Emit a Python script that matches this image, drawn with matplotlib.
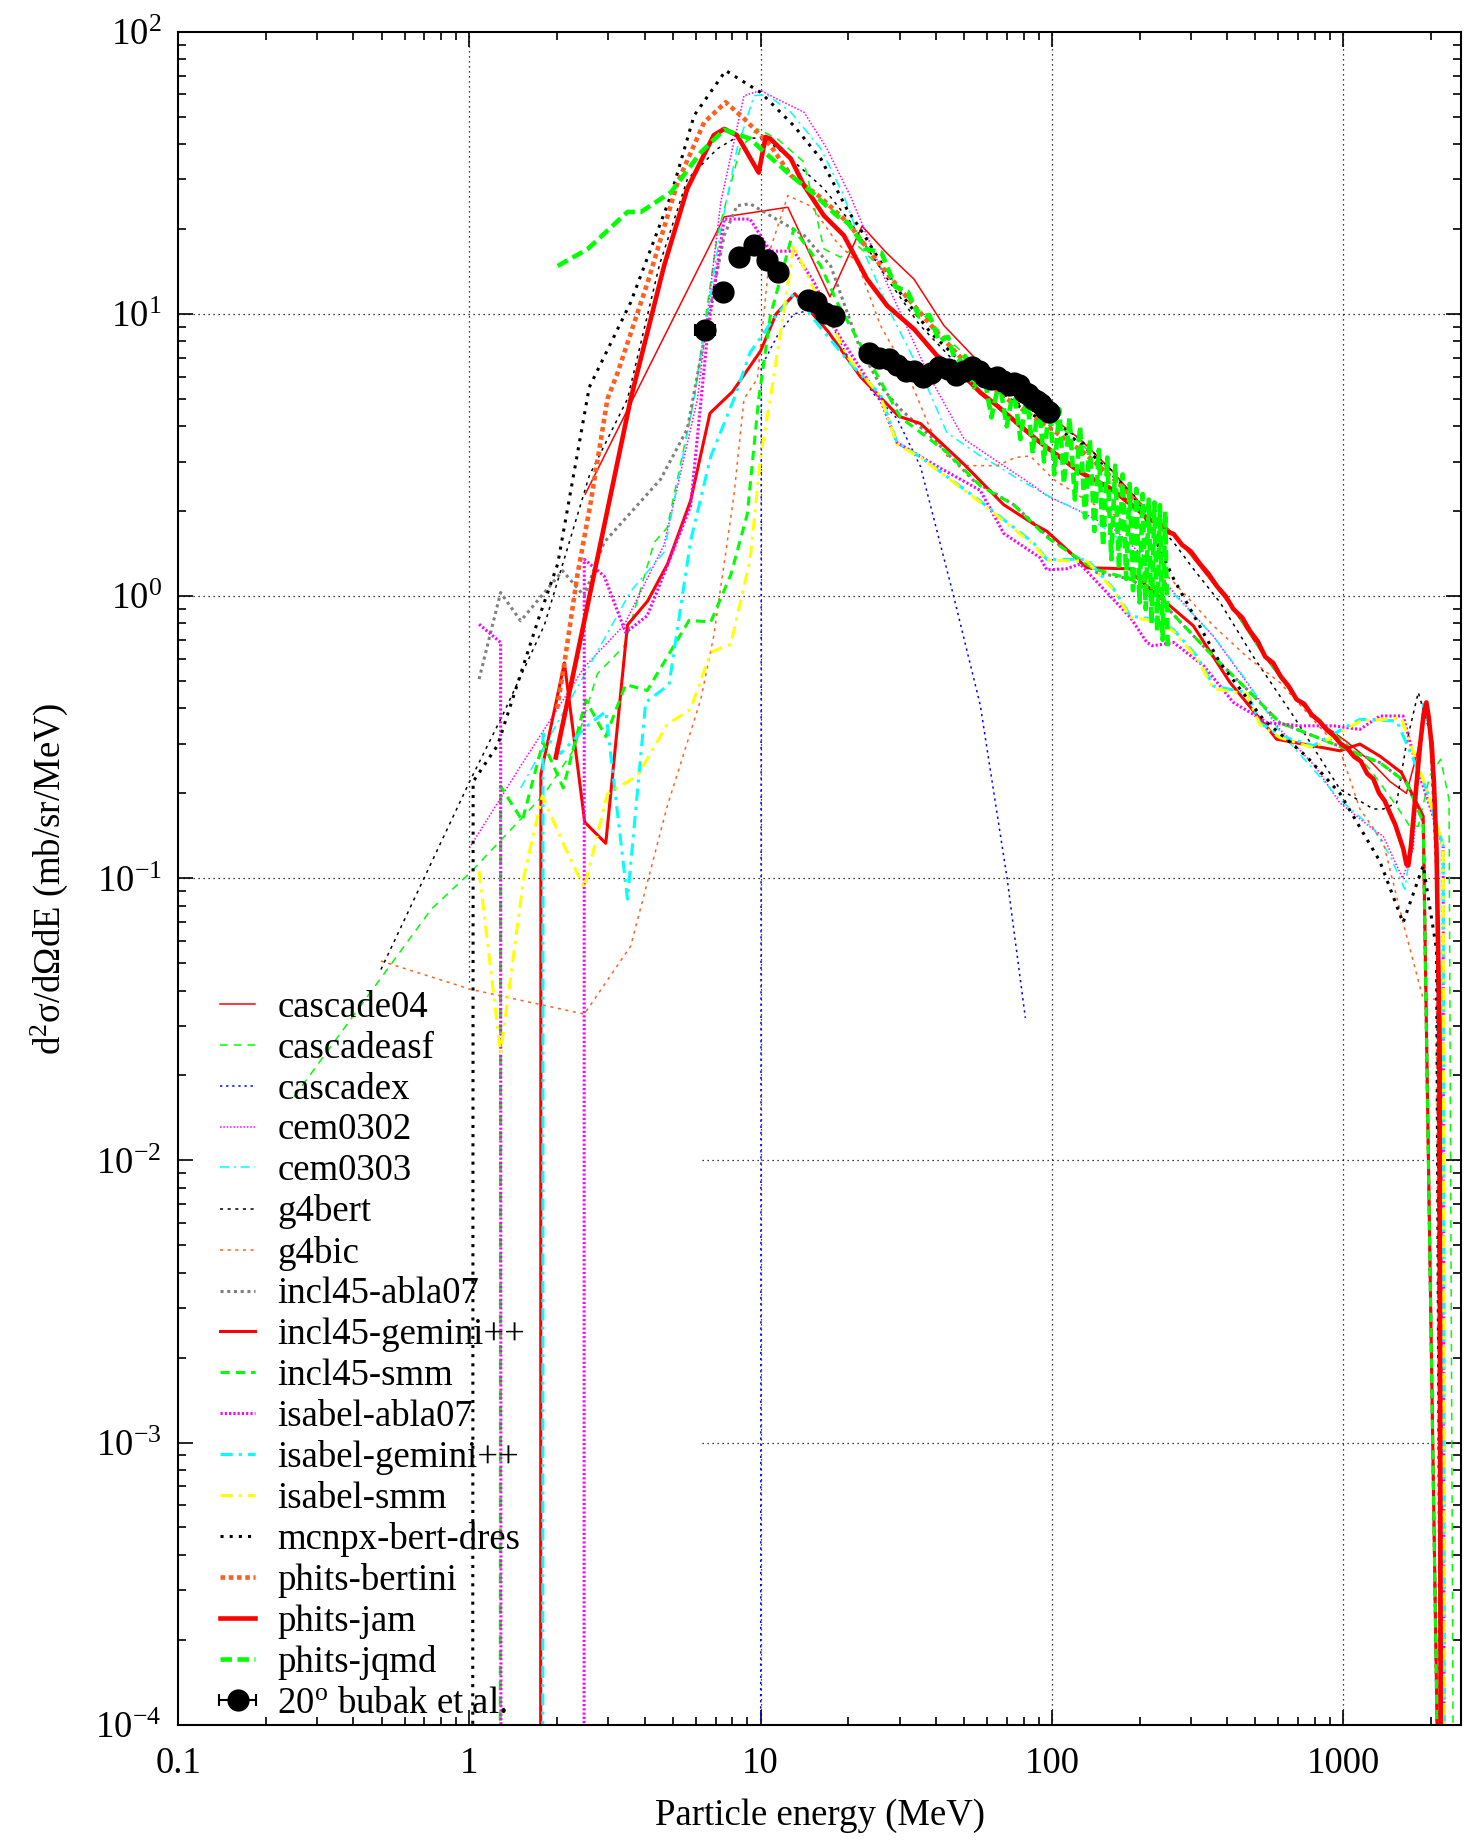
import math
import matplotlib
matplotlib.use('Agg')
import matplotlib.pyplot as plt
from matplotlib.ticker import FixedLocator, FuncFormatter, NullFormatter

plt.rcParams['font.family'] = ['Liberation Serif', 'DejaVu Serif']
plt.rcParams['mathtext.fontset'] = 'custom'
plt.rcParams['mathtext.rm'] = 'Liberation Serif'
plt.rcParams['mathtext.it'] = 'Liberation Serif:italic'
plt.rcParams['mathtext.bf'] = 'Liberation Serif:bold'

# ---- model curves (energy in MeV, d2sigma/dOmega dE in mb/sr/MeV) ----
e_cascade04 = [2.5, 7.5, 12.4, 17.3, 22.3, 27, 33.6, 42.6, 55, 70, 85, 100, 125, 160, 200, 262, 323, 420,
               532, 693, 855, 1028, 1240, 1450, 1650, 1800, 1930, 2040, 2100, 2180, 2200]
y_cascade04 = [2.3, 22.1, 23.9, 11.5, 20.5, 16.5, 13.3, 9.1, 6.9, 5.6, 4.9, 4.3, 3.6, 2.8, 2.15, 1.66, 1.27, 0.9,
               0.62, 0.43, 0.35, 0.305, 0.26, 0.22, 0.2, 0.28, 0.4, 0.3, 0.13, 0.02, 1e-6]

e_cascadeasf = [0.25, 0.74, 1.01, 1.81, 2.29, 2.75, 3.4, 4.31, 4.78, 5.91, 7.1, 8.5, 9.75, 11.4, 14.1, 16.5, 18.8,
                21.5, 27, 33, 42, 55, 70, 85, 100, 125, 160, 200, 262, 323, 420, 532, 693, 855, 1028, 1250,
                1528, 1693, 1812, 1986, 2163, 2311, 2432]
y_cascadeasf = [0.0168, 0.0777, 0.105, 0.199, 0.287, 0.53, 0.665, 1.55, 1.75, 5.0, 19, 38.5, 45.3, 41.8, 34.5, 17,
                15.9, 17.5, 14, 11, 8.5, 6.6, 5.3, 4.7, 4.2, 3.5, 2.75, 2.1, 1.66, 1.28, 0.9, 0.62, 0.43, 0.35,
                0.3, 0.24, 0.18, 0.153, 0.153, 0.231, 0.264, 0.19, 1e-6]

e_cascadex = [9.99, 10.05, 11.5, 13.0, 14.7, 17.5, 20, 24.5, 29.4, 35.4, 46, 56.8, 70.2, 81.1]
y_cascadex = [1e-6, 6.5, 8.5, 10.0, 10.3, 9.2, 7.0, 5.2, 4.26, 2.88, 1.0, 0.41, 0.1, 0.032]

e_cem0302 = [1.0, 1.5, 2.48, 3.4, 4.66, 6.07, 7.3, 8.77, 10, 11.4, 14.1, 16.9, 20.4, 27, 38, 50, 65, 86.7, 96,
             125, 163, 212, 262, 359, 467, 607, 800, 975, 1270, 1374, 1600, 1741, 1884, 2036, 2093, 2230]
y_cem0302 = [0.128, 0.25, 0.56, 0.79, 1.52, 5.0, 25, 59.4, 62, 57.8, 51.9, 38.5, 26, 13, 6.0, 3.6, 3.0, 2.46, 2.27,
             2.0, 1.73, 1.35, 1.03, 0.72, 0.494, 0.337, 0.25, 0.185, 0.149, 0.141, 0.1, 0.127, 0.42, 0.29, 0.127, 1e-6]

e_cem0303 = [1.5, 2.48, 3.58, 4.66, 5.91, 7.3, 8.3, 9.5, 10.5, 12.7, 16.1, 19.3, 23, 27.9, 36.3, 43.6, 56.8, 64.9,
             74, 96, 125, 163, 212, 262, 359, 467, 607, 800, 975, 1270, 1450, 1629, 1750, 1884, 2036, 2093, 2230]
y_cem0303 = [0.209, 0.525, 1.04, 1.43, 5.0, 20, 38.5, 59.4, 60, 51.9, 38.5, 26.3, 16, 10.1, 5.9, 3.8, 3.14, 2.9,
             2.66, 2.28, 2.0, 1.65, 1.3, 1.02, 0.72, 0.5, 0.33, 0.24, 0.19, 0.15, 0.12, 0.0914, 0.15, 0.42, 0.29,
             0.13, 1e-6]

e_g4bert = [0.497, 0.568, 1.01, 1.30, 1.81, 2.58, 3.49, 4.5, 5.6, 7.1, 8.3, 10.3, 12.7, 16.5, 20.4, 27, 35, 45, 60,
            80, 100, 125, 160, 200, 262, 306, 378, 492, 675, 975, 1270, 1374, 1528, 1652, 1812, 1986, 2093, 2200]
y_g4bert = [0.0475, 0.0636, 0.224, 0.378, 0.79, 2.67, 5.0, 15, 30, 38.5, 42.4, 41.8, 35.5, 27.8, 21.1, 13.5, 9.2,
            7.0, 5.6, 4.7, 4.2, 3.6, 2.8, 2.1, 1.55, 1.25, 0.95, 0.61, 0.376, 0.207, 0.176, 0.176, 0.185, 0.303,
            0.456, 0.329, 0.0966, 1e-6]

e_g4bic = [0.497, 1.01, 2.48, 3.58, 4.78, 6.23, 6.9, 8.1, 8.77, 9.75, 10.8, 12.4, 15, 18.3, 21.5, 25.8, 31.8,
           38.3, 43.6, 50, 64.9, 75, 84.3, 101, 130, 170, 210, 262, 359, 467, 607, 975, 1142, 1374, 1607, 1884,
           2093, 2200]
y_g4bic = [0.0509, 0.0404, 0.033, 0.0575, 0.18, 0.43, 0.72, 2.28, 5.0, 5.9, 17, 26.3, 24, 17.9, 15.2, 9.1, 6.2,
           3.9, 3.14, 2.9, 2.9, 3.1, 3.14, 2.6, 2.2, 1.9, 1.4, 1.12, 0.785, 0.61, 0.494, 0.286, 0.176, 0.134,
           0.0696, 0.0373, 0.0373, 1e-6]

e_incl_abla = [1.08, 1.28, 1.50, 2.09, 2.48, 2.9, 4.54, 5.6, 6.4, 7.5, 8.3, 9.2, 10.8, 14.1, 17.4, 22, 26, 30.2,
               39.3, 54, 73.9, 96, 143, 186, 229, 276, 359, 467, 607, 901, 1337, 1652, 1884, 2250]
y_incl_abla = [0.508, 1.03, 0.817, 1.23, 1.0, 1.55, 2.6, 3.91, 8.15, 19, 24.2, 24.6, 22.3, 19, 14.8, 7.5, 5.5,
               4.6, 3.6, 2.56, 2.11, 1.64, 1.21, 1.15, 1.0, 0.81, 0.61, 0.468, 0.356, 0.303, 0.257, 0.218, 0.158,
               1e-6]

e_incl_gemini = [1.755, 1.76, 2.12, 2.49, 2.94, 3.49, 4.09, 4.79, 5.75, 6.7, 8.0, 10, 11.3, 13.1, 17, 22, 29.8,
                 35.4, 49.8, 68.3, 86.7, 96, 132, 186, 193, 306, 409, 592, 975, 1142, 1337, 1586, 1884, 2250]
y_incl_gemini = [1e-6, 0.234, 0.58, 0.158, 0.133, 0.79, 0.96, 1.30, 2.18, 4.45, 5.3, 7.4, 10, 11.8, 8.7, 6.0,
                 4.34, 4.09, 2.94, 2.11, 1.80, 1.70, 1.26, 1.25, 1.18, 0.785, 0.494, 0.311, 0.283, 0.299, 0.271,
                 0.237, 0.166, 1e-6]

e_incl_smm = [1.275, 1.28, 1.52, 1.79, 2.1, 2.51, 2.94, 3.44, 4.08, 5.68, 6.74, 7.9, 9.0, 9.85, 10.8, 13, 16.1,
              18.3, 21.5, 30.2, 43.6, 56.8, 73.9, 96, 139, 186, 229, 276, 359, 467, 607, 901, 1337, 1652, 1884,
              2250]
y_incl_smm = [1e-6, 0.212, 0.16, 0.304, 0.209, 0.428, 0.318, 0.486, 0.463, 0.82, 0.81, 1.19, 1.95, 5.0, 9.85,
              20, 14.8, 11, 8.15, 4.3, 3.24, 2.46, 2.11, 1.62, 1.25, 1.15, 1.0, 0.81, 0.61, 0.468, 0.356, 0.303,
              0.257, 0.218, 0.158, 1e-6]

e_isabel_abla = [1.08, 1.28, 1.285, 2.475, 2.48, 2.9, 3.44, 4.08, 4.78, 5.75, 6.58, 7.5, 9.2, 10.8, 13.0, 15.3,
                 18.3, 25.8, 29.4, 40, 56.8, 68.3, 91, 96, 112, 125, 186, 212, 222, 262, 332, 420, 549, 711, 925,
                 1142, 1337, 1607, 1786, 2206, 2230]
y_isabel_abla = [0.795, 0.685, 1e-6, 1e-6, 1.35, 1.18, 0.743, 0.852, 1.28, 2.09, 8.6, 21.7, 21.7, 16.7, 16.7,
                 12.9, 8.6, 4.97, 3.5, 2.9, 2.37, 1.67, 1.37, 1.24, 1.25, 1.30, 0.84, 0.685, 0.667, 0.685, 0.566,
                 0.42, 0.356, 0.347, 0.347, 0.337, 0.376, 0.376, 0.25, 0.13, 1e-6]

e_isabel_gemini = [1.785, 1.79, 2.06, 2.51, 2.94, 3.49, 4.03, 4.85, 5.75, 6.74, 8.1, 9.2, 11, 13.0, 16, 20, 25.8,
                   29.4, 35.4, 56.8, 86.7, 96, 132, 163, 186, 222, 262, 316, 359, 467, 518, 607, 790, 1142, 1528,
                   1932, 2206, 2240]
y_isabel_gemini = [1e-6, 0.325, 0.277, 0.344, 0.39, 0.0843, 0.42, 0.486, 1.57, 3.12, 5.0, 7.3, 9.5, 11.8, 9.0,
                   6.8, 5.17, 3.5, 3.11, 2.17, 1.54, 1.35, 1.35, 1.06, 0.85, 0.83, 0.76, 0.61, 0.48, 0.455, 0.356,
                   0.32, 0.295, 0.366, 0.361, 0.207, 0.13, 1e-6]

e_isabel_smm = [1.08, 1.28, 1.54, 1.78, 2.12, 2.48, 2.98, 3.78, 4.78, 5.75, 6.74, 7.9, 9.2, 10, 10.8, 13, 16, 20,
                25.8, 29.4, 35.4, 56.8, 86.7, 96, 132, 163, 186, 222, 262, 316, 359, 467, 518, 607, 790, 1142,
                1586, 1932, 2206, 2240]
y_isabel_smm = [0.106, 0.024, 0.102, 0.196, 0.13, 0.0925, 0.199, 0.231, 0.351, 0.397, 0.633, 0.675, 1.34, 3.12,
                5.0, 17.5, 11, 7, 5.1, 3.45, 3.1, 2.15, 1.52, 1.34, 1.33, 1.05, 0.84, 0.82, 0.75, 0.6, 0.47, 0.45,
                0.35, 0.315, 0.29, 0.36, 0.37, 0.207, 0.13, 1e-6]

e_mcnpx = [1.025, 1.03, 1.25, 1.72, 2.01, 2.58, 3.58, 4.92, 5.91, 7.59, 10, 13.0, 16.1, 19.8, 22, 29.4, 38.3, 50,
           70, 100, 125, 196, 262, 378, 532, 750, 975, 1337, 1607, 1884, 2093, 2206]
y_mcnpx = [1e-6, 0.22, 0.296, 0.82, 1.30, 5.5, 11, 26.3, 50.5, 72.9, 61, 46.5, 35.5, 23.5, 20, 12.3, 8.6, 6.6,
           5.0, 4.0, 3.5, 2.2, 1.15, 0.58, 0.366, 0.27, 0.2, 0.115, 0.0696, 0.111, 0.056, 1e-6]

e_phits_bertini = [2.0, 2.12, 2.35, 2.61, 2.98, 3.23, 4.09, 5.19, 6.4, 7.59, 8.77, 10.8, 12.7, 16, 20, 25, 30,
                   40, 50, 70, 100, 130, 170, 200, 250]
y_phits_bertini = [0.4, 0.58, 1.19, 2.15, 5.0, 6.2, 12.9, 29.3, 47.8, 56.3, 49.3, 39.6, 31, 26, 21, 15.5, 12.3,
                   8.7, 6.8, 5.0, 3.9, 3.2, 2.5, 2.1, 1.7]

e_phits_jam = [1.98, 3.58, 4.66, 5.6, 6.9, 7.5, 8.3, 9.85, 10.4, 10.8, 12.7, 14.1, 16.5, 19.3, 23.2, 27.2, 33.6,
               40.4, 47.3, 56.8, 64.9, 77.7, 91, 125, 160, 200, 215, 230, 245, 262, 280, 300, 323, 345, 370, 395,
               420, 450, 480, 510, 540, 575, 610, 650, 693, 735, 780, 830, 880, 930, 980, 1030, 1090, 1150, 1210,
               1270, 1330, 1390, 1450, 1510, 1560, 1610, 1650, 1675, 1710, 1750, 1790, 1840, 1890, 1932, 1970,
               2010, 2050, 2093, 2140, 2180]
y_phits_jam = [0.268, 5.0, 14.8, 27.8, 43, 45.3, 43, 31.7, 42.4, 41.8, 35.5, 28.5, 22.3, 19, 13.3, 10.7, 8.85,
               7.1, 6.38, 5.27, 4.73, 4.02, 3.51, 2.75, 2.4, 2.0, 1.86, 1.84, 1.7, 1.66, 1.52, 1.44, 1.3, 1.2,
               1.08, 1.0, 0.9, 0.84, 0.75, 0.69, 0.61, 0.58, 0.52, 0.48, 0.43, 0.415, 0.38, 0.36, 0.335, 0.32,
               0.3, 0.29, 0.27, 0.26, 0.235, 0.225, 0.2, 0.188, 0.17, 0.155, 0.14, 0.127, 0.112, 0.111, 0.13, 0.17,
               0.22, 0.3, 0.38, 0.42, 0.37, 0.3, 0.22, 0.127, 0.03, 1e-6]

e_phits_jqmd = [2.01, 2.55, 3.49, 3.88, 4.92, 6.23, 7.5, 9.2, 10.3, 12.7, 15, 18.3, 20, 23, 26, 29, 32, 35, 38,
                41, 44, 47, 50, 54, 58, 62, 66, 70, 74, 78, 82, 86, 90, 94, 98, 102, 106, 110, 115, 120, 125, 130,
                135, 140, 145, 150, 155, 160, 165, 170, 175, 180, 185, 190, 195, 200, 205, 210, 215, 220, 225, 230,
                235, 240, 245, 250]
y_phits_jqmd = [14.8, 17, 23, 23, 27, 37.4, 45, 41.8, 37.5, 31, 27, 22.3, 21, 17, 16.5, 12.5, 12, 9.8, 9.9, 8.0,
                8.3, 6.6, 7.2, 5.5, 6.4, 4.3, 5.8, 4.0, 5.5, 3.6, 5.2, 3.2, 5.0, 3.0, 4.9, 2.7, 4.6, 2.5, 4.3, 2.2,
                4.0, 1.9, 3.6, 1.7, 3.3, 1.5, 3.1, 1.35, 2.9, 1.25, 2.7, 1.15, 2.5, 1.05, 2.4, 0.95, 2.3, 0.9, 2.2,
                0.8, 2.15, 0.75, 2.1, 0.7, 2.0, 0.65]

# ---- measurement: 20 deg, bubak et al. ----
exp_e = [6.46, 7.43, 8.46, 9.46, 10.5, 11.5, 14.5, 15.5, 16.7, 17.9, 23.5, 25.5, 27.5, 29.5, 31.5, 33.5, 36,
         38.5, 41, 44, 47, 50, 53, 56, 59, 62, 65, 68, 71, 74, 77, 80, 83, 86, 89, 92, 95, 98]
exp_y = [8.8, 12.0, 15.9, 17.5, 15.6, 14.1, 11.2, 11.0, 10.1, 9.8, 7.3, 7.0, 6.9, 6.6, 6.3, 6.3, 6.0, 6.2, 6.5,
         6.4, 6.1, 6.3, 6.5, 6.3, 6.0, 5.9, 6.0, 5.8, 5.6, 5.7, 5.6, 5.3, 5.2, 5.0, 4.9, 4.8, 4.6, 4.5]
exp_dE = [0.5] * len(exp_e)

x_ticks = [0.1, 1, 10, 100, 1000]
y_ticks = [1e-4, 1e-3, 1e-2, 1e-1, 1, 10, 100]

thin, mid, thick = 1.1, 2.2, 3.3
orange = '#ff6020'
series = [
    ('cascade04', e_cascade04, y_cascade04, '#ff0000', thin, '-'),
    ('cascadeasf', e_cascadeasf, y_cascadeasf, '#00ff00', thin, (0, (5, 4))),
    ('cascadex', e_cascadex, y_cascadex, '#0000ff', thin, (0, (1.5, 2.5))),
    ('cem0302', e_cem0302, y_cem0302, '#ff00ff', thin, (0, (1, 1.2))),
    ('cem0303', e_cem0303, y_cem0303, '#00ffff', thin, (0, (6, 3, 1.5, 3))),
    ('g4bert', e_g4bert, y_g4bert, 'black', thin, (0, (2, 3))),
    ('g4bic', e_g4bic, y_g4bic, orange, thin, (0, (2, 3))),
    ('incl45-abla07', e_incl_abla, y_incl_abla, '#808080', mid, (0, (1, 1.2))),
    ('incl45-gemini++', e_incl_gemini, y_incl_gemini, '#ff0000', mid, '-'),
    ('incl45-smm', e_incl_smm, y_incl_smm, '#00ff00', mid, (0, (3, 2))),
    ('isabel-abla07', e_isabel_abla, y_isabel_abla, '#ff00ff', mid, (0, (0.7, 0.7))),
    ('isabel-gemini++', e_isabel_gemini, y_isabel_gemini, '#00ffff', mid, (0, (4, 2, 1, 2))),
    ('isabel-smm', e_isabel_smm, y_isabel_smm, '#ffff00', mid, (0, (4, 2, 1, 2))),
    ('mcnpx-bert-dres', e_mcnpx, y_mcnpx, 'black', mid, (0, (1, 2))),
    ('phits-bertini', e_phits_bertini, y_phits_bertini, orange, thick, (0, (1, 0.8))),
    ('phits-jam', e_phits_jam, y_phits_jam, '#ff0000', thick, '-'),
    ('phits-jqmd', e_phits_jqmd, y_phits_jqmd, '#00ff00', thick, (0, (2.5, 1.2))),
]

fig = plt.figure(figsize=(14.65, 18.42), dpi=100)
ax = fig.add_axes([0.1216, 0.0637, 0.876, 0.919])
ax.set_xscale('log')
ax.set_yscale('log')
ax.set_xlim(0.1, 2550)
ax.set_ylim(1e-4, 1e2)

# grid (partly hidden behind the key box, as in the original)
grid_kw = dict(color='black', lw=0.9, ls=(0, (1, 3)), zorder=0)
for gx in [10, 100, 1000]:
    ax.vlines(gx, 1e-4, 1e2, **grid_kw)
ax.vlines(1, 0.043, 1e2, **grid_kw)
for gy in [1e-1, 1, 10]:
    ax.hlines(gy, 0.1, 2550, **grid_kw)
for gy in [1e-3, 1e-2]:
    ax.hlines(gy, 6.3, 2550, **grid_kw)

handles = []
for label, e, y, col, lw, ls in series:
    h, = ax.plot(e, y, color=col, lw=lw, ls=ls, label=label, zorder=2)
    handles.append(h)

eb = ax.errorbar(exp_e, exp_y, xerr=exp_dE, fmt='o', color='black', ms=15, elinewidth=1.5,
                 capsize=4, capthick=1.5, label='20$^{\\mathrm{o}}$ bubak et al.', zorder=3)
handles.append(eb)

ax.xaxis.set_major_locator(FixedLocator(x_ticks))
ax.xaxis.set_major_formatter(FuncFormatter(lambda v, p: '%g' % v))
ax.yaxis.set_major_locator(FixedLocator(y_ticks))
ax.yaxis.set_major_formatter(FuncFormatter(lambda v, p: '$10^{%d}$' % round(math.log10(v))))
ax.xaxis.set_minor_formatter(NullFormatter())
ax.yaxis.set_minor_formatter(NullFormatter())
ax.tick_params(which='both', direction='in', top=True, right=True, labelsize=26.5, width=1.2)
ax.tick_params(axis='x', which='major', length=11, pad=16)
ax.tick_params(axis='y', which='major', length=11, pad=12)
ax.tick_params(which='minor', length=6)
for sp in ax.spines.values():
    sp.set_linewidth(1.5)

ax.set_xlabel('Particle energy (MeV)', fontsize=26.5, labelpad=12)
ax.set_ylabel('d$^2$σ/dΩdE (mb/sr/MeV)', fontsize=26.5, labelpad=18)

ax.legend(handles=handles, loc='lower left', bbox_to_anchor=(0.03, 0.0), frameon=False, fontsize=26.5,
          handlelength=0.95, handletextpad=0.6, labelspacing=0.17, borderpad=0.1, borderaxespad=0)

fig.savefig('out.png', dpi=100)
